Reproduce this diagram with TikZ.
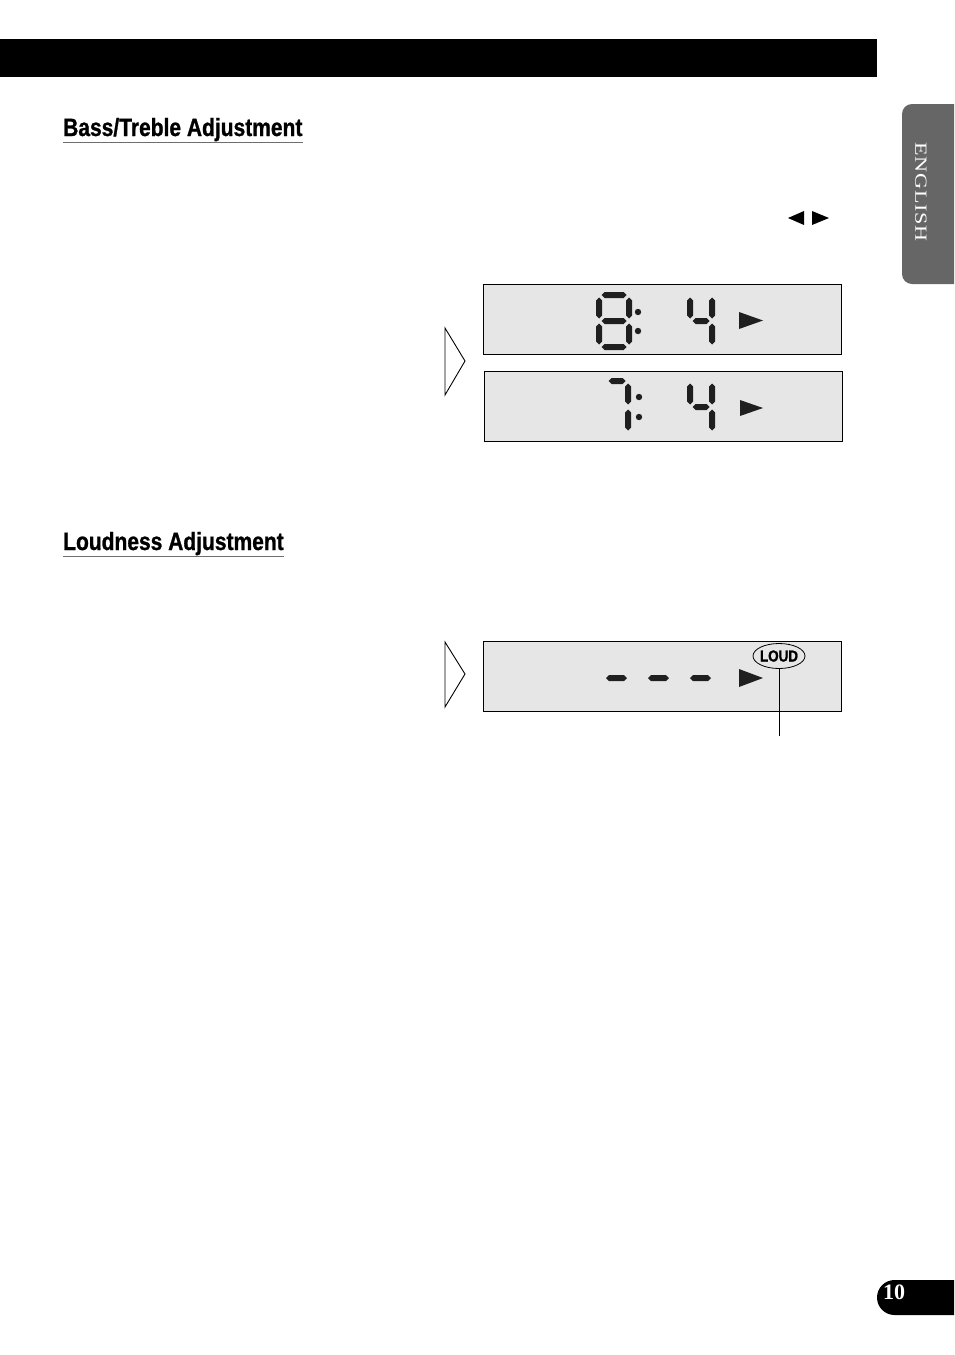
\documentclass[tikz,border=0pt]{standalone}
\usepackage{fontspec}
\setmainfont{Liberation Serif}
\newfontfamily\headfont[FakeStretch=0.84,FakeBold=1]{Liberation Sans}
\newfontfamily\tabfont[FakeStretch=1.3,LetterSpace=4]{Liberation Serif}
\usetikzlibrary{
  positioning % relative placement
}

\definecolor{lcdgray}{HTML}{E6E6E6}
\definecolor{tabgray}{HTML}{666666}
\definecolor{rulegray}{HTML}{6E6E6E}

\tikzset{
  lcd/.style={fill=lcdgray, draw=black, line width=1.3pt, inner sep=0pt,
    minimum width=358pt, minimum height=70pt, anchor=north west},
  lcdseg/.style={fill=black!88},
  pointer/.style={draw=black, line width=0.9pt, fill=white, line join=miter},
  headline/.style={rulegray, line width=1.7pt},
  heading/.style={anchor=base west, inner sep=0pt,
    font=\headfont\bfseries\fontsize{25}{30}\selectfont}
}

% one LCD segment: start point (x,y) and length
\newcommand{\hseg}[3]{\fill[lcdseg] (#1,#2) -- ++(3,-3) -- ++({(#3)-6},0) -- ++(3,3) -- ++(-3,3) -- ++({6-(#3)},0) -- cycle;}
\newcommand{\vseg}[3]{\fill[lcdseg] (#1,#2) -- ++(3,3) -- ++(0,{(#3)-6}) -- ++(-3,3) -- ++(-3,-3) -- ++(0,{6-(#3)}) -- cycle;}
% seven segments of a digit, width \dw, height 52
\newcommand{\segA}{\hseg{2.5}{0}{\dw-5}}
\newcommand{\segB}{\vseg{\dw}{2.5}{21}}
\newcommand{\segC}{\vseg{\dw}{28.5}{21}}
\newcommand{\segD}{\hseg{2.5}{52}{\dw-5}}
\newcommand{\segE}{\vseg{0}{28.5}{21}}
\newcommand{\segF}{\vseg{0}{2.5}{21}}
\newcommand{\segG}{\hseg{2.5}{26}{\dw-5}}

\begin{document}
\begin{tikzpicture}[x=1pt, y=-1pt]
  \useasboundingbox (0,0) rectangle (954,1355);

  % =========== page header and side tab ===========
  \fill[black] (0,39) rectangle (877,77);
  \fill[tabgray] (954,104) [rounded corners=10] -- (902,104) -- (902,284) [sharp corners] -- (954,284) -- cycle;
  \node[rotate=-90, text=white, inner sep=0pt, font=\tabfont\fontsize{17}{17}\selectfont] (english) at (921,192) {ENGLISH};

  % =========== Bass/Treble ===========
  \node[heading] (head1) at (63,136) {Bass/Treble Adjustment};
  \draw[headline] ([yshift=-6.5pt]head1.base west) -- ([yshift=-6.5pt]head1.base east);

  % left/right keys
  \fill[black] (788,218) -- (804,211) -- (804,225) -- cycle
               (812,211) -- (812,225) -- (829,218) -- cycle;

  \draw[pointer] (445,328) -- (465,361) -- (445,395) -- cycle;

  \node[lcd] (disp1) at (483,284) {};
  \node[lcd] (disp2) at (484,371) {};

  % B: 4
  \begin{scope}[shift={(599,295)}]
    \def\dw{30}
    \segA \segB \segC \segD \segE \segF \segG
  \end{scope}
  \fill[lcdseg] (638,312) circle (3.2) (638,331) circle (3.2);
  \begin{scope}[shift={(690,295)}]
    \def\dw{22}
    \segF \segG \segB \segC
  \end{scope}
  \fill[lcdseg] (739,312) -- (739,329) -- (763,320.5) -- cycle;

  % T: 4
  \begin{scope}[shift={(606,381)}]
    \def\dw{22}
    \segA \segB \segC
  \end{scope}
  \fill[lcdseg] (639,397) circle (3.2) (639,417) circle (3.2);
  \begin{scope}[shift={(690,381)}]
    \def\dw{22}
    \segF \segG \segB \segC
  \end{scope}
  \fill[lcdseg] (740,400) -- (740,416) -- (763,408) -- cycle;

  % =========== Loudness ===========
  \node[heading] (head2) at (63,550) {Loudness Adjustment};
  \draw[headline] ([yshift=-6.5pt]head2.base west) -- ([yshift=-6.5pt]head2.base east);

  \draw[pointer] (445,642) -- (465,674) -- (445,707) -- cycle;

  \node[lcd] (disp3) at (483,641) {};

  % - - -
  \hseg{606}{678}{21}
  \hseg{648}{678}{21}
  \hseg{690}{678}{21}
  \fill[lcdseg] (739,669) -- (739,687) -- (763,678) -- cycle;

  % LOUD indicator with its leader
  \node[inner sep=0pt, font=\headfont\bfseries\fontsize{16}{16}\selectfont] (loud) at (779,656) {LOUD};
  \draw[line width=0.8pt] (loud.center) ellipse [x radius=26, y radius=12.5];
  \coordinate (loudtip) at (779,736);
  \draw[line width=0.9pt] ([yshift=-12.5pt]loud.center) -- (loudtip);

  % =========== page number ===========
  \fill[black] (954,1280) [rounded corners=17.5] -- (877,1280) -- (877,1315) [sharp corners] -- (954,1315) -- cycle;
  \node[text=white, inner sep=0pt, font=\bfseries\fontsize{22}{22}\selectfont] (pagenum) at (894,1292) {10};

\end{tikzpicture}
\end{document}
